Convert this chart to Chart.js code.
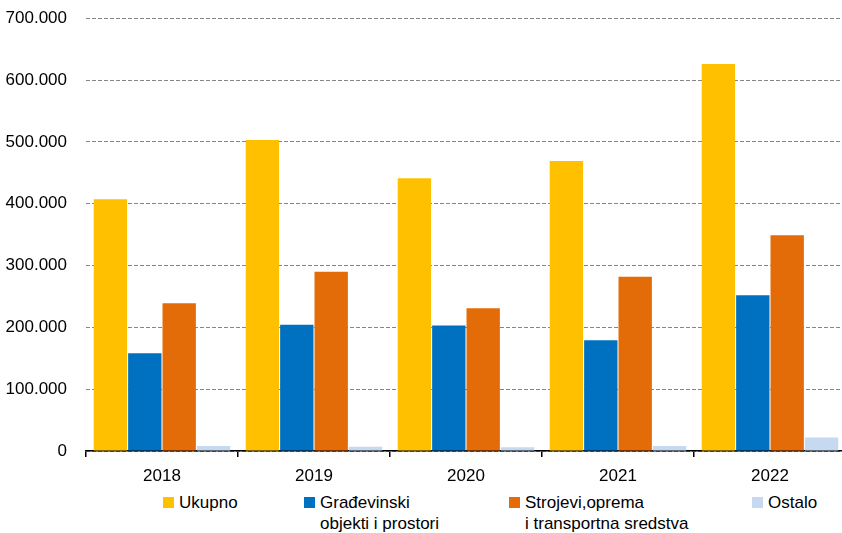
<!DOCTYPE html>
<html>
<head>
<meta charset="utf-8">
<script src="https://cdn.jsdelivr.net/npm/chart.js@4/dist/chart.umd.min.js"></script>
<style>
  html, body { margin: 0; padding: 0; background: #fff; overflow: hidden; width: 842px; height: 533px; }
  #wrap { position: absolute; left: 0; top: -11px; width: 848px; height: 501px; }
  .leg { position: absolute; top: 492px; font: 17px "Liberation Sans", Arial, sans-serif; color: #000; line-height: 21px; white-space: pre-line; }
  .leg .box { position: absolute; left: 0; top: 5px; width: 11px; height: 11px; }
  .leg .txt { margin-left: 16px; }
</style>
</head>
<body>
<div id="wrap"><canvas id="myChart"></canvas></div>
<div id="legend"></div>
<script>
var years = ['2018', '2019', '2020', '2021', '2022'];
var ukupno = [407000, 503000, 441000, 469000, 626000];
var gradjevinski = [158000, 204000, 203000, 179000, 252000];
var strojevi = [239000, 290000, 231000, 282000, 349000];
var ostalo = [8000, 7000, 6000, 8000, 22000];
var seriesLabels = ['Ukupno', 'Građevinski\nobjekti i prostori', 'Strojevi,oprema\ni transportna sredstva', 'Ostalo'];
var seriesColors = ['#FFC000', '#0070C0', '#E36C09', '#C6D9F1'];
var yTicks = [0, 100000, 200000, 300000, 400000, 500000, 600000, 700000];

var font = { family: '"Liberation Sans", Arial, sans-serif', size: 17 };

var ctx = document.getElementById('myChart').getContext('2d');
var myChart = new Chart(ctx, {
  type: 'bar',
  data: {
    labels: years,
    datasets: [ukupno, gradjevinski, strojevi, ostalo].map(function (d, i) {
      return {
        label: seriesLabels[i],
        data: d,
        backgroundColor: seriesColors[i],
        borderWidth: 0,
        barPercentage: 0.97,
        categoryPercentage: 0.905
      };
    })
  },
  options: {
    responsive: true,
    maintainAspectRatio: false,
    animation: false,
    layout: { padding: { top: 7, right: 2, left: 0, bottom: 0 } },
    plugins: {
      legend: { display: false },
      tooltip: { enabled: false }
    },
    scales: {
      x: {
        grid: { offset: true, drawOnChartArea: false, drawTicks: true, tickLength: 6, color: '#000', lineWidth: 1.5 },
        border: { display: true, color: '#000', width: 1.5 },
        ticks: { color: '#000', font: font, padding: 9, maxRotation: 0 },
        afterFit: function (scale) { scale.height = 39; }
      },
      y: {
        min: 0,
        max: 700000,
        afterBuildTicks: function (scale) { scale.ticks = yTicks.map(function (v) { return { value: v }; }); },
        grid: { color: '#858585', lineWidth: 1, drawTicks: false },
        border: { display: false, dash: [4, 2] },
        ticks: {
          color: '#000', font: font, padding: 19,
          callback: function (v) { return v.toLocaleString('de-DE'); }
        },
        afterFit: function (scale) { scale.width = 86; }
      }
    }
  }
});

// legend below the chart, built from the series arrays
var legendLeft = [163, 304, 509, 752];
var legend = document.getElementById('legend');
seriesLabels.forEach(function (lab, i) {
  var item = document.createElement('div');
  item.className = 'leg';
  item.style.left = legendLeft[i] + 'px';
  item.innerHTML = '<span class="box" style="background:' + seriesColors[i] + '"></span><div class="txt"></div>';
  item.querySelector('.txt').textContent = lab;
  legend.appendChild(item);
});
</script>
</body>
</html>
